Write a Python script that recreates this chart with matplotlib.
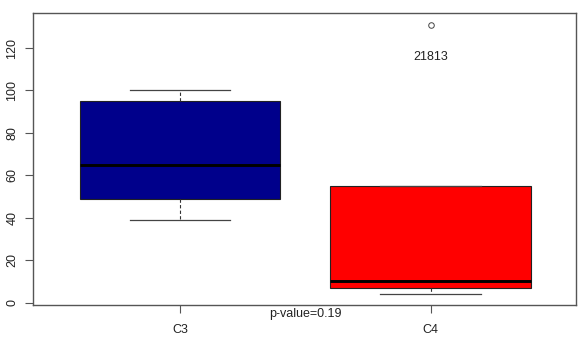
import matplotlib
matplotlib.use("Agg")
import matplotlib.pyplot as plt

plt.rcParams['font.family'] = ['Liberation Sans', 'DejaVu Sans']

# values
groups = ['C3', 'C4']
whis_lo = [39, 4]
q1 = [49, 7]
medians = [65, 10]
q3 = [95, 55]
whis_hi = [100, 55]
fliers = [[], [131]]
flier_labels = ['21813']
box_colors = ['#00008B', '#FF0000']
p_value = 0.19

stats = []
for i in range(len(groups)):
    stats.append(dict(label=groups[i], whislo=whis_lo[i], q1=q1[i], med=medians[i],
                      q3=q3[i], whishi=whis_hi[i], fliers=fliers[i]))

fig = plt.figure(figsize=(5.79, 3.44), dpi=100)
ax = fig.add_axes([0.057, 0.1134, 0.9378, 0.8474])

bp = ax.bxp(stats, positions=[1, 2], widths=0.8, patch_artist=True,
            boxprops=dict(edgecolor='#222222', linewidth=0.8),
            medianprops=dict(color='black', linewidth=2.1),
            whiskerprops=dict(color='#333333', linewidth=0.8, linestyle=(0, (3, 2))),
            capprops=dict(color='#444444', linewidth=0.9),
            capwidths=0.4,
            flierprops=dict(marker='o', markersize=4, markerfacecolor='none',
                            markeredgecolor='#444444', markeredgewidth=0.7))
for patch, c in zip(bp['boxes'], box_colors):
    patch.set_facecolor(c)

# label the outlier
ax.annotate(flier_labels[0], xy=(2, fliers[1][0]), xytext=(0, -23),
            textcoords='offset points', ha='center', va='center',
            fontsize=9, color='#222222')

ax.set_xlim(0.414, 2.58)
ax.set_ylim(-1.1, 136.3)
ax.set_yticks([0, 20, 40, 60, 80, 100, 120])
ax.set_xticks([1, 2])
ax.set_xticklabels(groups)
for lab in ax.get_yticklabels():
    lab.set_rotation(90)
    lab.set_va('center')
ax.tick_params(axis='both', direction='out', length=5.5, width=0.8,
               color='#555555', labelsize=9, labelcolor='#222222')
ax.tick_params(axis='x', pad=8)
ax.tick_params(axis='y', pad=5)
for sp in ax.spines.values():
    sp.set_color('#555555')
    sp.set_linewidth(1.0)

ax.text(1.5, -0.012, 'p-value=%.2f' % p_value, transform=ax.get_xaxis_transform(),
        ha='center', va='top', fontsize=9, color='#222222')

fig.savefig('out.png', dpi=100)
